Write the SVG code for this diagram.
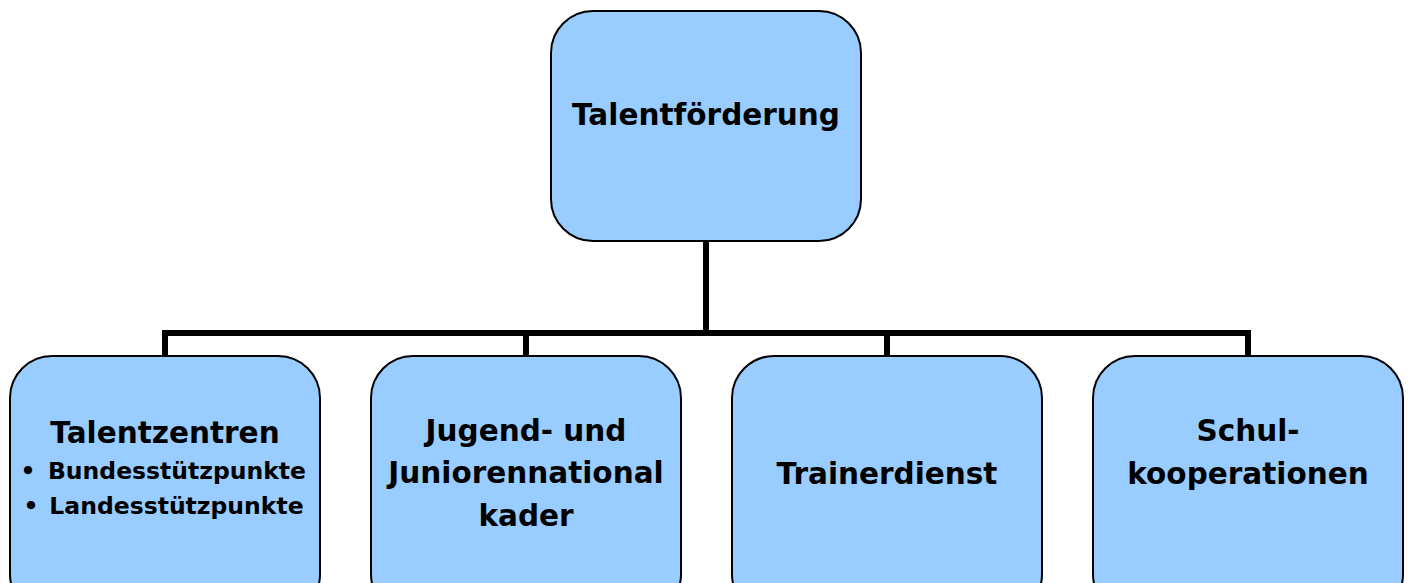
<svg xmlns="http://www.w3.org/2000/svg" width="1411" height="583" viewBox="0 0 1411 583">
<style>
.box{fill:#99CCFF;stroke:#000;stroke-width:2}
.t{font-family:"DejaVu Sans",Verdana,sans-serif;font-weight:bold;font-size:29.5px;fill:#000;text-anchor:middle}
.s{font-size:23.5px}
.c{fill:none;stroke:#000;stroke-width:6}
</style>
<rect width="1411" height="583" fill="#fff"/>
<g id="connectors">
<path class="c" d="M706 241V333M162 333H1251M165 333V356M526 333V356M887 333V356M1248 333V356"/>
</g>
<g id="n0"><rect class="box" x="551" y="11" width="310" height="230" rx="42"/><text class="t" x="706" y="125">Talentförderung</text></g>
<g id="n1"><rect class="box" x="10" y="356" width="310" height="260" rx="42"/><text class="t" x="165" y="443">Talentzentren</text><text class="t s" x="28" y="479">•</text><text class="t s" x="177" y="479">Bundesstützpunkte</text><text class="t s" x="31" y="514">•</text><text class="t s" x="176.5" y="514">Landesstützpunkte</text></g>
<g id="n2"><rect class="box" x="371" y="356" width="310" height="260" rx="42"/><text class="t" x="526" y="441">Jugend- und</text><text class="t" x="526" y="483">Juniorennational</text><text class="t" x="526" y="526">kader</text></g>
<g id="n3"><rect class="box" x="732" y="356" width="310" height="260" rx="42"/><text class="t" x="887" y="484">Trainerdienst</text></g>
<g id="n4"><rect class="box" x="1093" y="356" width="310" height="260" rx="42"/><text class="t" x="1248" y="441">Schul-</text><text class="t" x="1248" y="484">kooperationen</text></g>
</svg>
